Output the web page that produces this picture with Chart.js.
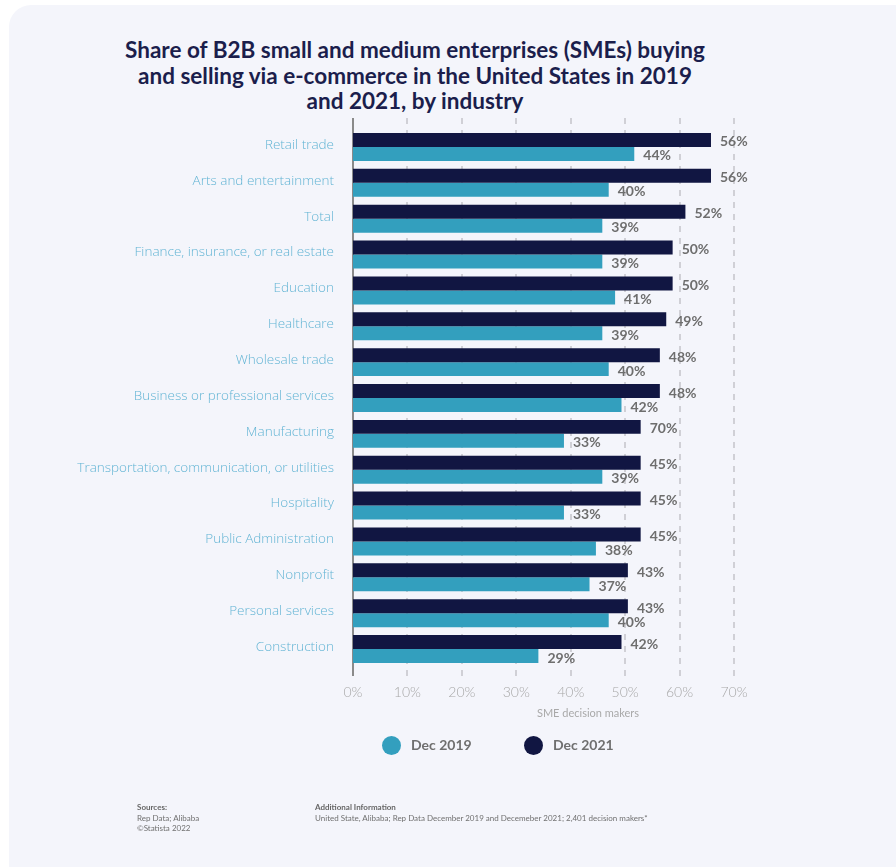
<!DOCTYPE html>
<html>
<head>
<meta charset="utf-8">
<script src="https://cdn.jsdelivr.net/npm/chart.js@4.4.1/dist/chart.umd.min.js"></script>
<style>
  html, body { margin: 0; padding: 0; background: #ffffff; width: 896px; height: 867px; overflow: hidden; }
  #card { position: absolute; left: 9px; top: 5px; width: 920px; height: 900px; background: #f4f5fb; border-radius: 22px; }
  #title { position: absolute; left: 15px; width: 800px; top: 37px; text-align: center; font-family: Lato, sans-serif; font-weight: 700; font-size: 22.5px; line-height: 25.5px; color: #1b1e4c; }
  #wrap { position: absolute; left: 0; top: 0; width: 896px; height: 867px; }
  #xtitle { position: absolute; left: 488px; width: 200px; top: 706px; text-align: center; font-family: Lato, sans-serif; font-size: 11px; color: #a9a9a9; }
  #legend { position: absolute; top: 735px; left: 382px; font-family: Lato, sans-serif; font-weight: 700; font-size: 14px; color: #6f6f6f; }
  .li { position: absolute; white-space: nowrap; top: 0; height: 20px; line-height: 20px; }
  .dot { display: inline-block; width: 19px; height: 19px; border-radius: 50%; vertical-align: middle; margin-right: 10px; position: relative; top: -1px; }
  .foot { position: absolute; font-family: Lato, sans-serif; font-size: 8px; color: #707070; line-height: 10.5px; top: 802px; }
  .foot b { color: #666; }
</style>
</head>
<body>
<div id="card"></div>
<div id="title">Share of B2B small and medium enterprises (SMEs) buying<br>and selling via e-commerce in the United States in 2019<br>and 2021, by industry</div>
<div id="wrap"><canvas id="c" width="896" height="867"></canvas></div>
<div id="xtitle">SME decision makers</div>
<div id="legend">
  <div class="li" style="left:0px;"><span class="dot" style="background:#339fbe"></span>Dec 2019</div>
  <div class="li" style="left:142px;"><span class="dot" style="background:#111642"></span>Dec 2021</div>
</div>
<div class="foot" style="left:137px;"><b>Sources:</b><br>Rep Data; Alibaba<br>©Statista 2022</div>
<div class="foot" style="left:315px;"><b>Additional Information</b><br>United State, Alibaba; Rep Data December 2019 and Decemeber 2021; 2,401 decision makers*</div>
<script>
const categories = [
  'Retail trade',
  'Arts and entertainment',
  'Total',
  'Finance, insurance, or real estate',
  'Education',
  'Healthcare',
  'Wholesale trade',
  'Business or professional services',
  'Manufacturing',
  'Transportation, communication, or utilities',
  'Hospitality',
  'Public Administration',
  'Nonprofit',
  'Personal services',
  'Construction'
];
const dec2021 = [56, 56, 52, 50, 50, 49, 48, 48, 45, 45, 45, 45, 43, 43, 42];
const dec2019 = [44, 40, 39, 39, 41, 39, 40, 42, 33, 39, 33, 38, 37, 40, 29];
const labels2021 = ['56%', '56%', '52%', '50%', '50%', '49%', '48%', '48%', '70%', '45%', '45%', '45%', '43%', '43%', '42%'];
const labels2019 = ['44%', '40%', '39%', '39%', '41%', '39%', '40%', '42%', '33%', '39%', '33%', '38%', '37%', '40%', '29%'];
const tickLabels = ['0%', '10%', '20%', '30%', '40%', '50%', '60%', '70%'];
const axisMax = 59.6;

const gridPlugin = {
  id: 'dashGrid',
  beforeDatasetsDraw(chart) {
    const ctx = chart.ctx, xs = chart.scales.x, a = chart.chartArea;
    ctx.save();
    ctx.lineWidth = 2;
    ctx.strokeStyle = '#d0d0d6';
    ctx.setLineDash([6, 6]);
    xs.ticks.forEach((t, i) => {
      if (i === 0) return;
      const px = Math.round(xs.getPixelForValue(t.value));
      ctx.beginPath();
      ctx.moveTo(px, a.top - 11);
      ctx.lineTo(px, a.bottom + 9);
      ctx.stroke();
    });
    ctx.setLineDash([]);
    ctx.strokeStyle = '#8a8a8a';
    const p0 = Math.round(xs.getPixelForValue(0));
    ctx.beginPath();
    ctx.moveTo(p0, a.top - 11);
    ctx.lineTo(p0, a.bottom + 9);
    ctx.stroke();
    ctx.restore();
  },
  afterDatasetsDraw(chart) {
    const ctx = chart.ctx;
    const texts = [labels2021, labels2019];
    ctx.save();
    ctx.font = '700 14px Lato, sans-serif';
    ctx.fillStyle = '#6e6e6e';
    ctx.textAlign = 'left';
    ctx.textBaseline = 'middle';
    chart.data.datasets.forEach((ds, i) => {
      chart.getDatasetMeta(i).data.forEach((bar, j) => {
        ctx.fillText(texts[i][j], bar.x + 9, bar.y + 2);
      });
    });
    ctx.restore();
  }
};

new Chart(document.getElementById('c'), {
  type: 'bar',
  data: {
    labels: categories,
    datasets: [
      { label: 'Dec 2021', data: dec2021, backgroundColor: '#111642', barPercentage: 1, categoryPercentage: 0.78 },
      { label: 'Dec 2019', data: dec2019, backgroundColor: '#339fbe', barPercentage: 1, categoryPercentage: 0.78 }
    ]
  },
  options: {
    indexAxis: 'y',
    responsive: false,
    animation: false,
    layout: { padding: { top: 129, right: 162, bottom: 0, left: 0 } },
    plugins: { legend: { display: false }, tooltip: { enabled: false } },
    scales: {
      x: {
        min: 0, max: axisMax,
        afterBuildTicks(scale) {
          scale.ticks = tickLabels.map((_, i) => ({ value: axisMax * i / 7 }));
        },
        afterFit(scale) { scale.height = 200; },
        grid: { display: false, drawTicks: false },
        border: { display: false },
        ticks: {
          padding: 17,
          color: '#a8a8a8',
          font: { family: 'Lato', size: 14, weight: 300 },
          callback: (v, i) => tickLabels[i],
          maxRotation: 0, autoSkip: false
        }
      },
      y: {
        afterFit(scale) { scale.width = 353; },
        grid: { display: false, drawTicks: false },
        border: { display: false },
        ticks: {
          padding: 19,
          labelOffset: -2,
          color: '#62b4d4',
          font: { family: 'Open Sans', size: 13.5, weight: 300 },
          autoSkip: false
        }
      }
    }
  },
  plugins: [gridPlugin]
});
</script>
</body>
</html>
